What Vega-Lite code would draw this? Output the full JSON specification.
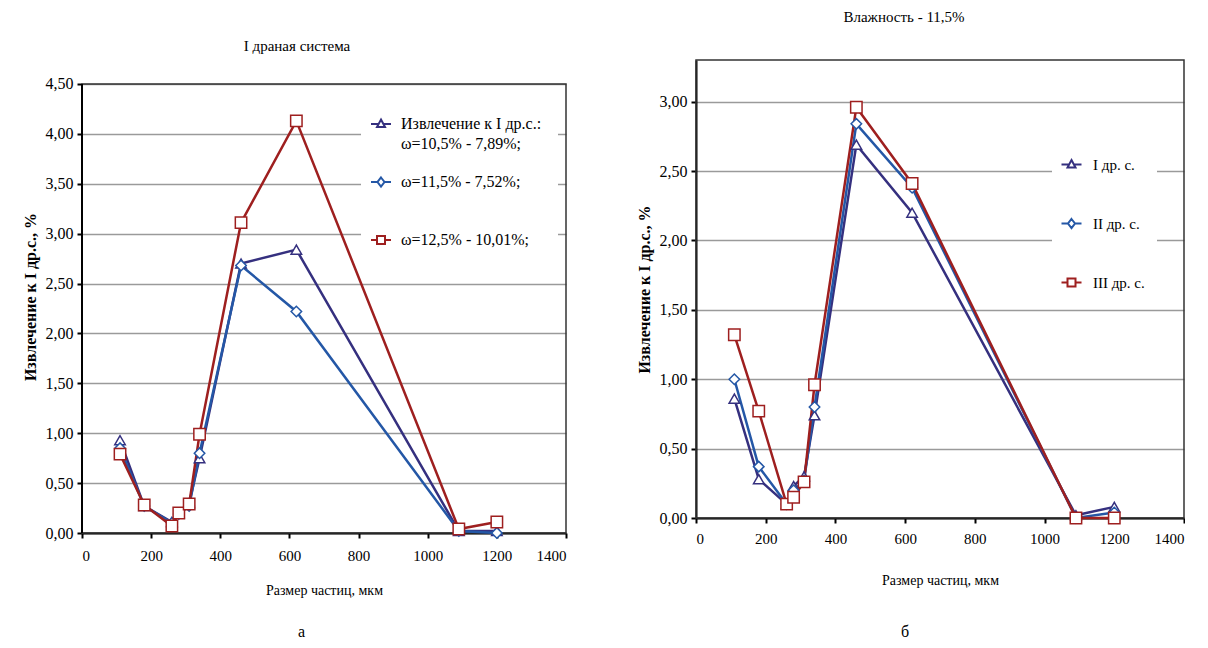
{
  "$schema": "https://vega.github.io/schema/vega-lite/v6.json",
  "padding": {"left": 22, "top": 10, "right": 0, "bottom": 0},
  "background": "white",
  "title": {"text": "а\u00a0\u00a0\u00a0\u00a0\u00a0\u00a0\u00a0\u00a0\u00a0\u00a0\u00a0\u00a0\u00a0\u00a0\u00a0\u00a0\u00a0\u00a0\u00a0\u00a0\u00a0\u00a0\u00a0\u00a0\u00a0\u00a0\u00a0\u00a0\u00a0\u00a0\u00a0\u00a0\u00a0\u00a0\u00a0\u00a0\u00a0\u00a0\u00a0\u00a0\u00a0\u00a0\u00a0\u00a0\u00a0\u00a0\u00a0\u00a0\u00a0\u00a0\u00a0\u00a0\u00a0\u00a0\u00a0\u00a0\u00a0\u00a0\u00a0\u00a0\u00a0\u00a0\u00a0\u00a0\u00a0\u00a0\u00a0\u00a0\u00a0\u00a0\u00a0\u00a0\u00a0\u00a0\u00a0\u00a0\u00a0\u00a0\u00a0\u00a0\u00a0\u00a0\u00a0\u00a0\u00a0\u00a0\u00a0\u00a0\u00a0\u00a0\u00a0\u00a0\u00a0\u00a0\u00a0\u00a0\u00a0\u00a0\u00a0\u00a0\u00a0\u00a0\u00a0\u00a0\u00a0\u00a0\u00a0\u00a0\u00a0\u00a0\u00a0\u00a0\u00a0\u00a0\u00a0\u00a0\u00a0\u00a0\u00a0\u00a0\u00a0\u00a0\u00a0\u00a0\u00a0\u00a0\u00a0\u00a0\u00a0\u00a0\u00a0\u00a0\u00a0\u00a0\u00a0\u00a0\u00a0\u00a0\u00a0\u00a0\u00a0\u00a0\u00a0\u00a0\u00a0\u00a0\u00a0\u00a0\u00a0б", "orient": "bottom", "anchor": "middle", "fontSize": 16, "offset": 27},
  "datasets": {
    "a": [
      {"s": "Извлечение к  I др.с.:|ω=10,5% - 7,89%;", "x": 110, "y": 0.93},
      {"s": "Извлечение к  I др.с.:|ω=10,5% - 7,89%;", "x": 180, "y": 0.27},
      {"s": "Извлечение к  I др.с.:|ω=10,5% - 7,89%;", "x": 260, "y": 0.11},
      {"s": "Извлечение к  I др.с.:|ω=10,5% - 7,89%;", "x": 280, "y": 0.2},
      {"s": "Извлечение к  I др.с.:|ω=10,5% - 7,89%;", "x": 310, "y": 0.3},
      {"s": "Извлечение к  I др.с.:|ω=10,5% - 7,89%;", "x": 340, "y": 0.75},
      {"s": "Извлечение к  I др.с.:|ω=10,5% - 7,89%;", "x": 460, "y": 2.7},
      {"s": "Извлечение к  I др.с.:|ω=10,5% - 7,89%;", "x": 620, "y": 2.84},
      {"s": "Извлечение к  I др.с.:|ω=10,5% - 7,89%;", "x": 1090, "y": 0.02},
      {"s": "Извлечение к  I др.с.:|ω=10,5% - 7,89%;", "x": 1200, "y": 0.02},
      {"s": "ω=11,5% - 7,52%;", "x": 110, "y": 0.85},
      {"s": "ω=11,5% - 7,52%;", "x": 180, "y": 0.27},
      {"s": "ω=11,5% - 7,52%;", "x": 260, "y": 0.1},
      {"s": "ω=11,5% - 7,52%;", "x": 280, "y": 0.19},
      {"s": "ω=11,5% - 7,52%;", "x": 310, "y": 0.27},
      {"s": "ω=11,5% - 7,52%;", "x": 340, "y": 0.8},
      {"s": "ω=11,5% - 7,52%;", "x": 460, "y": 2.68},
      {"s": "ω=11,5% - 7,52%;", "x": 620, "y": 2.22},
      {"s": "ω=11,5% - 7,52%;", "x": 1090, "y": 0.02},
      {"s": "ω=11,5% - 7,52%;", "x": 1200, "y": 0.0},
      {"s": "ω=12,5% - 10,01%;", "x": 110, "y": 0.79},
      {"s": "ω=12,5% - 10,01%;", "x": 180, "y": 0.28},
      {"s": "ω=12,5% - 10,01%;", "x": 260, "y": 0.07},
      {"s": "ω=12,5% - 10,01%;", "x": 280, "y": 0.2},
      {"s": "ω=12,5% - 10,01%;", "x": 310, "y": 0.29},
      {"s": "ω=12,5% - 10,01%;", "x": 340, "y": 0.99},
      {"s": "ω=12,5% - 10,01%;", "x": 460, "y": 3.11},
      {"s": "ω=12,5% - 10,01%;", "x": 620, "y": 4.13},
      {"s": "ω=12,5% - 10,01%;", "x": 1090, "y": 0.04},
      {"s": "ω=12,5% - 10,01%;", "x": 1200, "y": 0.11}
    ],
    "b": [
      {"s": "I др. с.", "x": 110, "y": 0.86},
      {"s": "I др. с.", "x": 180, "y": 0.28},
      {"s": "I др. с.", "x": 260, "y": 0.1},
      {"s": "I др. с.", "x": 280, "y": 0.23},
      {"s": "I др. с.", "x": 310, "y": 0.3},
      {"s": "I др. с.", "x": 340, "y": 0.74},
      {"s": "I др. с.", "x": 460, "y": 2.69},
      {"s": "I др. с.", "x": 620, "y": 2.2},
      {"s": "I др. с.", "x": 1090, "y": 0.02},
      {"s": "I др. с.", "x": 1200, "y": 0.08},
      {"s": "II др. с.", "x": 110, "y": 1.0},
      {"s": "II др. с.", "x": 180, "y": 0.37},
      {"s": "II др. с.", "x": 260, "y": 0.1},
      {"s": "II др. с.", "x": 280, "y": 0.2},
      {"s": "II др. с.", "x": 310, "y": 0.27},
      {"s": "II др. с.", "x": 340, "y": 0.8},
      {"s": "II др. с.", "x": 460, "y": 2.84},
      {"s": "II др. с.", "x": 620, "y": 2.38},
      {"s": "II др. с.", "x": 1090, "y": 0.0},
      {"s": "II др. с.", "x": 1200, "y": 0.04},
      {"s": "III др. с.", "x": 110, "y": 1.32},
      {"s": "III др. с.", "x": 180, "y": 0.77},
      {"s": "III др. с.", "x": 260, "y": 0.1},
      {"s": "III др. с.", "x": 280, "y": 0.15},
      {"s": "III др. с.", "x": 310, "y": 0.26},
      {"s": "III др. с.", "x": 340, "y": 0.96},
      {"s": "III др. с.", "x": 460, "y": 2.96},
      {"s": "III др. с.", "x": 620, "y": 2.41},
      {"s": "III др. с.", "x": 1090, "y": 0.0},
      {"s": "III др. с.", "x": 1200, "y": 0.0}
    ]
  },
  "config": {
    "font": "Liberation Serif",
    "view": {"stroke": null},
    "title": {"font": "Liberation Serif", "fontSize": 15, "fontWeight": "normal", "color": "black"},
    "axis": {
      "labelFont": "Liberation Serif", "labelFontSize": 15, "labelColor": "black",
      "titleFont": "Liberation Serif", "titleColor": "black",
      "domainColor": "black", "domainWidth": 2,
      "tickColor": "black", "tickWidth": 2, "tickSize": 5,
      "grid": false
    },
    "legend": {"labelFont": "Liberation Serif", "labelFontSize": 15, "labelColor": "black", "labelLimit": 400}
  },
  "resolve": {"scale": {"x": "independent", "y": "independent", "color": "independent"}, "legend": {"color": "independent"}},
  "spacing": 69,
  "hconcat": [
    {
      "width": 484,
      "height": 473,
      "title": {"text": "I драная система", "offset": 6, "dx": -27},
      "layer": [
        {
          "data": {"values": [{}]},
          "mark": {"type": "rect", "fill": "white", "fillOpacity": 0, "stroke": "#333333", "strokeWidth": 1.5},
          "encoding": {
            "x": {"datum": 0, "type": "quantitative"},
            "x2": {"datum": 1400},
            "y": {"datum": 0, "type": "quantitative"},
            "y2": {"datum": 4.5}
          }
        },
        {
          "data": {"name": "a"},
          "encoding": {
            "x": {"field": "x", "type": "quantitative", "scale": {"domain": [0, 1400]},
              "axis": {"values": [0, 200, 400, 600, 800, 1000, 1200, 1400], "format": "d", "title": "Размер частиц, мкм", "titleFontSize": 14, "titleFontWeight": "normal", "titlePadding": 20, "labelPadding": 10}},
            "y": {"field": "y", "type": "quantitative", "scale": {"domain": [0, 4.74], "nice": false},
              "axis": {"values": [0, 0.5, 1, 1.5, 2, 2.5, 3, 3.5, 4, 4.5], "grid": true, "gridColor": "#9a9a9a", "gridWidth": 1.5, "domain": false,
                "labelExpr": "replace(format(datum.value, '.2f'), '.', ',')", "labelPadding": 4, "labelFontSize": 16,
                "title": "Извлечение к I др.с., %", "titleFontSize": 16, "titleFontWeight": "bold", "titlePadding": 7}},
            "color": {"field": "s", "type": "nominal",
              "scale": {"domain": ["Извлечение к  I др.с.:|ω=10,5% - 7,89%;", "ω=11,5% - 7,52%;", "ω=12,5% - 10,01%;"], "range": ["#35307f", "#2457a6", "#9e1f1f"]},
              "legend": {"title": null, "orient": "none", "legendX": 279, "legendY": 44, "fillColor": "white", "padding": 12,
                "gridAlign": "all", "rowPadding": 21, "symbolSize": 100, "symbolStrokeWidth": 2, "labelBaseline": "top", "labelOffset": 12, "labelFontSize": 16,
                "labelExpr": "split(datum.label, '|')",
                "encode": {
                  "symbols": {"update": {"fill": {"value": "white"}, "shape": {"signal": "['M-2,0H-0.5M0.5,0H2M0,-0.9L0.8,0.6L-0.8,0.6Z','M-2,0H-0.7M0.7,0H2M0,-0.9L0.7,0L0,0.9L-0.7,0Z','M-2,0H-0.8M0.8,0H2M-0.8,-0.8H0.8V0.8H-0.8Z'][datum.index]"}}},
                  "labels": {"update": {"dy": {"value": -8}, "lineHeight": {"value": 20}}}
                }}}
          },
          "layer": [
            {"mark": {"type": "line", "strokeWidth": 2.5}},
            {
              "transform": [{"filter": {"field": "s", "equal": "Извлечение к  I др.с.:|ω=10,5% - 7,89%;"}}],
              "mark": {"type": "point", "shape": "triangle-up", "filled": false, "fill": "white", "fillOpacity": 1, "opacity": 1, "strokeWidth": 1.5, "size": 110}
            },
            {
              "transform": [{"filter": {"field": "s", "equal": "ω=11,5% - 7,52%;"}}],
              "mark": {"type": "point", "shape": "diamond", "filled": false, "fill": "white", "fillOpacity": 1, "opacity": 1, "strokeWidth": 1.5, "size": 110}
            },
            {
              "transform": [{"filter": {"field": "s", "equal": "ω=12,5% - 10,01%;"}}],
              "mark": {"type": "point", "shape": "square", "filled": false, "fill": "white", "fillOpacity": 1, "opacity": 1, "strokeWidth": 1.5, "size": 130}
            }
          ]
        },
        {
          "data": {"values": [{}]},
          "mark": {"type": "rule", "color": "black", "strokeWidth": 2},
          "encoding": {
            "x": {"datum": 0, "type": "quantitative"},
            "y": {"datum": 0, "type": "quantitative"},
            "y2": {"datum": 4.5}
          }
        }
      ]
    },
    {
      "width": 488,
      "height": 458,
      "title": {"text": "Влажность - 11,5%", "offset": 34, "dx": -36},
      "layer": [
        {
          "data": {"values": [{}]},
          "mark": {"type": "rect", "fill": "white", "fillOpacity": 0, "stroke": "#333333", "strokeWidth": 1.5},
          "encoding": {
            "x": {"datum": 0, "type": "quantitative"},
            "x2": {"datum": 1400},
            "y": {"datum": 0, "type": "quantitative"},
            "y2": {"datum": 3.3}
          }
        },
        {
          "data": {"name": "b"},
          "encoding": {
            "x": {"field": "x", "type": "quantitative", "scale": {"domain": [0, 1400]},
              "axis": {"values": [0, 200, 400, 600, 800, 1000, 1200, 1400], "format": "d", "title": "Размер частиц, мкм", "titleFontSize": 14, "titleFontWeight": "normal", "titlePadding": 27, "labelPadding": 8}},
            "y": {"field": "y", "type": "quantitative", "scale": {"domain": [0, 3.3], "nice": false},
              "axis": {"values": [0, 0.5, 1, 1.5, 2, 2.5, 3], "grid": true, "gridColor": "#9a9a9a", "gridWidth": 1.5,
                "labelExpr": "replace(format(datum.value, '.2f'), '.', ',')", "labelPadding": 4, "labelFontSize": 16,
                "title": "Извлечение к I др.с., %", "titleFontSize": 16, "titleFontWeight": "bold", "titlePadding": 7}},
            "color": {"field": "s", "type": "nominal",
              "scale": {"domain": ["I др. с.", "II др. с.", "III др. с."], "range": ["#35307f", "#2457a6", "#9e1f1f"]},
              "legend": {"title": null, "orient": "none", "legendX": 356, "legendY": 85, "fillColor": "white", "padding": 12,
                "rowPadding": 42, "symbolSize": 100, "symbolStrokeWidth": 2, "labelOffset": 14,
                "encode": {
                  "symbols": {"update": {"fill": {"value": "white"}, "shape": {"signal": "['M-2,0H-0.5M0.5,0H2M0,-0.9L0.8,0.6L-0.8,0.6Z','M-2,0H-0.7M0.7,0H2M0,-0.9L0.7,0L0,0.9L-0.7,0Z','M-2,0H-0.8M0.8,0H2M-0.8,-0.8H0.8V0.8H-0.8Z'][datum.index]"}}}
                }}}
          },
          "layer": [
            {"mark": {"type": "line", "strokeWidth": 2.5}},
            {
              "transform": [{"filter": {"field": "s", "equal": "I др. с."}}],
              "mark": {"type": "point", "shape": "triangle-up", "filled": false, "fill": "white", "fillOpacity": 1, "opacity": 1, "strokeWidth": 1.5, "size": 110}
            },
            {
              "transform": [{"filter": {"field": "s", "equal": "II др. с."}}],
              "mark": {"type": "point", "shape": "diamond", "filled": false, "fill": "white", "fillOpacity": 1, "opacity": 1, "strokeWidth": 1.5, "size": 110}
            },
            {
              "transform": [{"filter": {"field": "s", "equal": "III др. с."}}],
              "mark": {"type": "point", "shape": "square", "filled": false, "fill": "white", "fillOpacity": 1, "opacity": 1, "strokeWidth": 1.5, "size": 130}
            }
          ]
        }
      ]
    }
  ]
}
